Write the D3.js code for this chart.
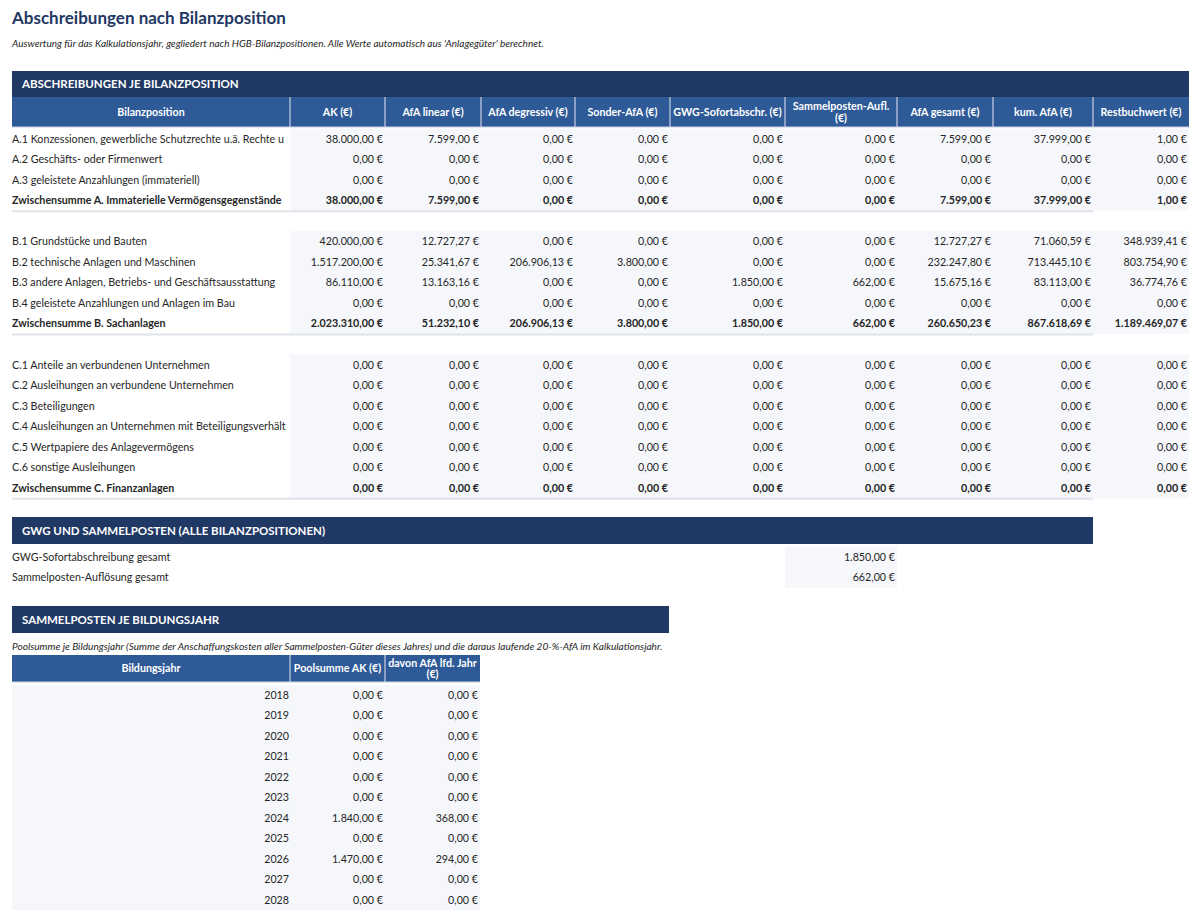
<!DOCTYPE html>
<html><head><meta charset="utf-8">
<script src="https://cdn.jsdelivr.net/npm/d3@7"></script>
<style>body{margin:0;background:#fff;}svg{font-family:Lato,"Noto Sans",sans-serif;}</style>
</head><body><svg id="c" width="1200" height="919"></svg>
<script>
// ---------- DATA ----------
const title = "Abschreibungen nach Bilanzposition";
const subtitle = "Auswertung für das Kalkulationsjahr, gegliedert nach HGB-Bilanzpositionen. Alle Werte automatisch aus 'Anlagegüter' berechnet.";
const section1 = "ABSCHREIBUNGEN JE BILANZPOSITION";
const section2 = "GWG UND SAMMELPOSTEN (ALLE BILANZPOSITIONEN)";
const section3 = "SAMMELPOSTEN JE BILDUNGSJAHR";
const subtitle3 = "Poolsumme je Bildungsjahr (Summe der Anschaffungskosten aller Sammelposten-Güter dieses Jahres) und die daraus laufende 20-%-AfA im Kalkulationsjahr.";

const columns = ["Bilanzposition","AK (€)","AfA linear (€)","AfA degressiv (€)","Sonder-AfA (€)","GWG-Sofortabschr. (€)","Sammelposten-Aufl. (€)","AfA gesamt (€)","kum. AfA (€)","Restbuchwert (€)"];
const positions = [
  "A.1 Konzessionen, gewerbliche Schutzrechte u.ä. Rechte und Werte",
  "A.2 Geschäfts- oder Firmenwert",
  "A.3 geleistete Anzahlungen (immateriell)",
  "Zwischensumme A. Immaterielle Vermögensgegenstände",
  "B.1 Grundstücke und Bauten",
  "B.2 technische Anlagen und Maschinen",
  "B.3 andere Anlagen, Betriebs- und Geschäftsausstattung",
  "B.4 geleistete Anzahlungen und Anlagen im Bau",
  "Zwischensumme B. Sachanlagen",
  "C.1 Anteile an verbundenen Unternehmen",
  "C.2 Ausleihungen an verbundene Unternehmen",
  "C.3 Beteiligungen",
  "C.4 Ausleihungen an Unternehmen mit Beteiligungsverhältnis",
  "C.5 Wertpapiere des Anlagevermögens",
  "C.6 sonstige Ausleihungen",
  "Zwischensumme C. Finanzanlagen"
];
const positionGroup = [0,0,0,0, 1,1,1,1,1, 2,2,2,2,2,2,2];
const isSubtotal   = [0,0,0,1, 0,0,0,0,1, 0,0,0,0,0,0,1];
const ak           = [38000,0,0,38000, 420000,1517200,86110,0,2023310, 0,0,0,0,0,0,0];
const afaLinear    = [7599,0,0,7599, 12727.27,25341.67,13163.16,0,51232.10, 0,0,0,0,0,0,0];
const afaDegressiv = [0,0,0,0, 0,206906.13,0,0,206906.13, 0,0,0,0,0,0,0];
const sonderAfa    = [0,0,0,0, 0,3800,0,0,3800, 0,0,0,0,0,0,0];
const gwgSofort    = [0,0,0,0, 0,0,1850,0,1850, 0,0,0,0,0,0,0];
const sammelAufl   = [0,0,0,0, 0,0,662,0,662, 0,0,0,0,0,0,0];
const afaGesamt    = [7599,0,0,7599, 12727.27,232247.80,15675.16,0,260650.23, 0,0,0,0,0,0,0];
const kumAfa       = [37999,0,0,37999, 71060.59,713445.10,83113,0,867618.69, 0,0,0,0,0,0,0];
const restbuchwert = [1,0,0,1, 348939.41,803754.90,36774.76,0,1189469.07, 0,0,0,0,0,0,0];

const gwgLabels = ["GWG-Sofortabschreibung gesamt","Sammelposten-Auflösung gesamt"];
const gwgValues = [1850, 662];

const poolColumns = ["Bildungsjahr","Poolsumme AK (€)","davon AfA lfd. Jahr (€)"];
const years      = [2018,2019,2020,2021,2022,2023,2024,2025,2026,2027,2028];
const poolsumme  = [0,0,0,0,0,0,1840,0,1470,0,0];
const poolAfa    = [0,0,0,0,0,0,368,0,294,0,0];

// ---------- STYLE / LAYOUT ----------
const C = {title:"#1f3864", band:"#203864", head:"#2e5a98", sep:"#a9b9d2", cellBg:"#f5f7fb", text:"#262626", line:"#dfe3ea"};
const FS = 10.7;
const colEdges = [12,290,385,481,575,670,785,897,993,1093,1189];
const de = d3.formatLocale({decimal:",", thousands:".", grouping:[3], currency:["",""]});
const fmtNum = de.format(",.2f");
const eur = v => fmtNum(v) + " €";

const svg = d3.select("#c");

function measure(text, fontSize, weight){
  const t = svg.append("text").attr("font-size",fontSize).attr("font-weight",weight).attr("visibility","hidden").text(text);
  const w = t.node().getComputedTextLength(); t.remove(); return w;
}
function wrapLines(text, width, fontSize, weight){
  const words = text.split(" "); const lines=[]; let cur="";
  words.forEach(w=>{
    const test = cur ? cur+" "+w : w;
    if (measure(test,fontSize,weight) > width && cur){ lines.push(cur); cur=w; } else cur=test;
  });
  if(cur) lines.push(cur);
  return lines;
}
function fitText(text, width, fontSize, weight){
  let s = text;
  while (s.length>1 && measure(s,fontSize,weight) > width) s = s.slice(0,-1);
  return s;
}

function band(y0,y1,x0,x1,label){
  svg.append("rect").attr("x",x0).attr("y",y0).attr("width",x1-x0).attr("height",y1-y0).attr("fill",C.band);
  svg.append("text").attr("x",x0+10).attr("y",(y0+y1)/2).attr("dy","0.36em")
    .attr("fill","#fff").attr("font-size",11.5).attr("font-weight",700).text(label);
}

function header(y0,y1,edges,labels){
  const g = svg.append("g");
  g.append("rect").attr("x",edges[0]).attr("y",y0).attr("width",edges[edges.length-1]-edges[0]).attr("height",y1-y0).attr("fill",C.head);
  labels.forEach((lab,i)=>{
    const x0=edges[i], x1=edges[i+1];
    const lines = wrapLines(lab, x1-x0-2, FS, 700);
    const cy=(y0+y1)/2, lh=11.5;
    const t = g.append("text").attr("fill","#fff").attr("font-size",FS).attr("font-weight",700).attr("text-anchor","middle");
    lines.forEach((l,j)=>{
      t.append("tspan").attr("x",(x0+x1)/2).attr("y",cy+(j-(lines.length-1)/2)*lh).attr("dy","0.36em").text(l);
    });
  });
  edges.slice(1,-1).forEach(x=>{
    g.append("line").attr("x1",x).attr("x2",x).attr("y1",y0).attr("y2",y1).attr("stroke",C.sep).attr("stroke-width",1.5);
  });
  g.append("line").attr("x1",edges[0]).attr("x2",edges[edges.length-1]).attr("y1",y1).attr("y2",y1).attr("stroke","#c8d2e2").attr("stroke-width",1);
}

// ---------- TITLE ----------
svg.append("text").attr("x",12).attr("y",18).attr("dy","0.36em").attr("fill",C.title)
  .attr("font-size",17).attr("font-weight",700).text(title);
svg.append("text").attr("x",12).attr("y",43).attr("dy","0.36em").attr("fill",C.text)
  .attr("font-size",10).attr("font-style","italic").text(subtitle);

// ---------- TABLE 1 ----------
band(71,97,12,1189,section1);
header(97,127,colEdges,columns);

const slots = positions.map((d,i)=>i+positionGroup[i]);
const y1 = d3.scaleBand().domain(d3.range(positions.length+2)).range([128.6, 128.6+18*20.53]).padding(0);
const valueSeries = [ak,afaLinear,afaDegressiv,sonderAfa,gwgSofort,sammelAufl,afaGesamt,kumAfa,restbuchwert];

const rowsG = svg.append("g");
positions.forEach((lab,i)=>{
  const yy = y1(slots[i]), h = y1.bandwidth(), cy = yy+h/2;
  const bold = isSubtotal[i] ? 700 : 400;
  rowsG.append("rect").attr("x",colEdges[1]).attr("y",yy).attr("width",colEdges[10]-colEdges[1]).attr("height",h).attr("fill",C.cellBg);
  rowsG.append("text").attr("x",colEdges[0]).attr("y",cy).attr("dy","0.36em")
    .attr("fill",C.text).attr("font-size",FS).attr("font-weight",bold)
    .text(fitText(lab, colEdges[1]-colEdges[0]-1, FS, bold));
  valueSeries.forEach((s,k)=>{
    rowsG.append("text").attr("x",colEdges[k+2]-2).attr("y",cy).attr("dy","0.36em").attr("text-anchor","end")
      .attr("fill",C.text).attr("font-size",FS).attr("font-weight",bold).text(eur(s[i]));
  });
  if (isSubtotal[i]) {
    rowsG.append("line").attr("x1",colEdges[0]).attr("x2",colEdges[9]).attr("y1",yy+h+0.5).attr("y2",yy+h+0.5)
      .attr("stroke",C.line).attr("stroke-width",2);
  }
});

// ---------- TABLE 2 ----------
band(517,544,12,1093,section2);
const y2 = d3.scaleBand().domain(d3.range(gwgLabels.length)).range([546.8, 546.8+2*20.5]);
gwgLabels.forEach((lab,i)=>{
  const yy=y2(i), h=y2.bandwidth(), cy=yy+h/2;
  svg.append("rect").attr("x",colEdges[6]).attr("y",yy).attr("width",colEdges[7]-colEdges[6]).attr("height",h).attr("fill",C.cellBg);
  svg.append("text").attr("x",colEdges[0]).attr("y",cy).attr("dy","0.36em").attr("fill",C.text).attr("font-size",FS).text(lab);
  svg.append("text").attr("x",colEdges[7]-2).attr("y",cy).attr("dy","0.36em").attr("text-anchor","end").attr("fill",C.text).attr("font-size",FS).text(eur(gwgValues[i]));
});

// ---------- TABLE 3 ----------
band(606,633,12,669,section3);
svg.append("text").attr("x",12).attr("y",646).attr("dy","0.36em").attr("fill",C.text)
  .attr("font-size",10.1).attr("font-style","italic").text(subtitle3);
const poolEdges = colEdges.slice(0,3).concat([480]);
header(655,682,poolEdges,poolColumns);
const y3 = d3.scaleBand().domain(years).range([684.7, 684.7+years.length*20.5]);
svg.append("rect").attr("x",poolEdges[0]).attr("y",y3.range()[0]).attr("width",poolEdges[3]-poolEdges[0]).attr("height",years.length*20.5).attr("fill",C.cellBg);
years.forEach((yr,i)=>{
  const cy = y3(yr)+y3.bandwidth()/2;
  svg.append("text").attr("x",poolEdges[1]-1).attr("y",cy).attr("dy","0.36em").attr("text-anchor","end").attr("fill",C.text).attr("font-size",FS).text(yr);
  svg.append("text").attr("x",poolEdges[2]-2).attr("y",cy).attr("dy","0.36em").attr("text-anchor","end").attr("fill",C.text).attr("font-size",FS).text(eur(poolsumme[i]));
  svg.append("text").attr("x",poolEdges[3]-2).attr("y",cy).attr("dy","0.36em").attr("text-anchor","end").attr("fill",C.text).attr("font-size",FS).text(eur(poolAfa[i]));
});
</script></body></html>
